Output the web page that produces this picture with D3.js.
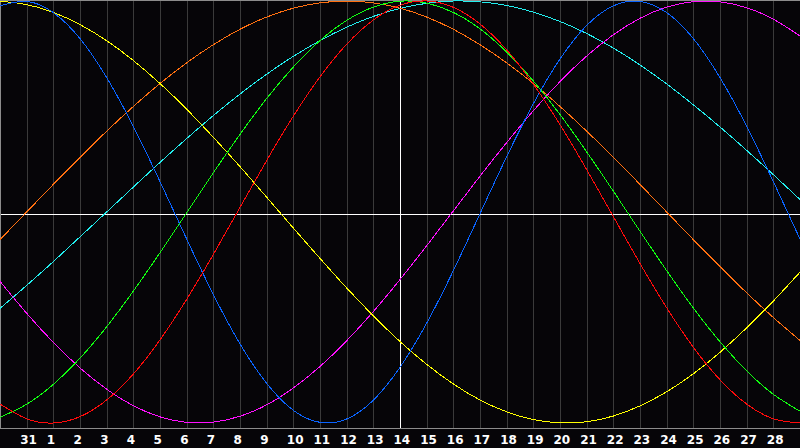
<!DOCTYPE html>
<html>
<head>
<meta charset="utf-8">
<script src="https://cdn.jsdelivr.net/npm/d3@7"></script>
<style>
  html, body { margin: 0; padding: 0; background: #060508; }
  svg { display: block; }
</style>
</head>
<body>
<svg id="chart" width="800" height="448"></svg>
<script>
// Day labels for each column (first and last are at the chart edges, unlabeled)
const days = ["30","31","1","2","3","4","5","6","7","8","9","10","11","12","13","14",
              "15","16","17","18","19","20","21","22","23","24","25","26","27","28","29"];

// Cycle values per day (-1 .. 1)
const blue = [0.977,0.998,0.945,0.822,0.637,0.406,0.144,-0.128,-0.391,-0.625,-0.812,-0.940,-0.997,-0.981,-0.892,-0.736,
              -0.527,-0.278,-0.008,0.262,0.513,0.725,0.884,0.977,0.998,0.945,0.822,0.637,0.406,0.144,-0.128];
const red = [-0.910,-0.980,-1.000,-0.970,-0.891,-0.768,-0.606,-0.414,-0.201,0.022,0.244,0.454,0.641,0.795,0.910,0.980,
             1.000,0.970,0.891,0.768,0.606,0.414,0.201,-0.022,-0.244,-0.454,-0.641,-0.795,-0.910,-0.980,-1.000];
const green = [-0.973,-0.911,-0.817,-0.693,-0.544,-0.375,-0.193,-0.004,0.186,0.368,0.538,0.687,0.812,0.908,0.971,0.999,
               0.990,0.946,0.868,0.758,0.621,0.462,0.285,0.099,-0.091,-0.278,-0.455,-0.615,-0.753,-0.864,-0.944];
const magenta = [-0.329,-0.480,-0.618,-0.739,-0.840,-0.918,-0.971,-0.997,-0.996,-0.968,-0.914,-0.834,-0.732,-0.610,-0.472,-0.320,
                 -0.160,0.005,0.170,0.329,0.480,0.618,0.739,0.840,0.918,0.971,0.997,0.996,0.968,0.914,0.834];
const yellow = [0.999,0.983,0.946,0.888,0.812,0.718,0.609,0.487,0.354,0.215,0.070,-0.076,-0.220,-0.360,-0.492,-0.614,
                -0.722,-0.815,-0.891,-0.947,-0.984,-0.999,-0.994,-0.967,-0.919,-0.852,-0.767,-0.665,-0.549,-0.422,-0.285];
const orange = [-0.131,0.000,0.131,0.259,0.383,0.500,0.609,0.707,0.793,0.866,0.924,0.966,0.991,1.000,0.991,0.966,
                0.924,0.866,0.793,0.707,0.609,0.500,0.383,0.259,0.131,0.000,-0.131,-0.259,-0.383,-0.500,-0.609];
const cyan = [-0.457,-0.348,-0.235,-0.118,0.000,0.118,0.235,0.348,0.457,0.559,0.653,0.738,0.812,0.876,0.927,0.965,
              0.989,1.000,0.996,0.979,0.947,0.903,0.846,0.777,0.697,0.607,0.508,0.403,0.292,0.177,0.059];

const seriesList = [
  { name: "cyan", values: cyan, color: "#22eeee" },
  { name: "orange", values: orange, color: "#ff7010" },
  { name: "magenta", values: magenta, color: "#ff10ff" },
  { name: "yellow", values: yellow, color: "#ffff00" },
  { name: "blue", values: blue, color: "#0a64ff" },
  { name: "green", values: green, color: "#10ff10" },
  { name: "red", values: red, color: "#ff0a0a" }
];

const W = 800, H = 448, plotBottom = 428;
const svg = d3.select("#chart");

svg.append("rect").attr("x", 0).attr("y", 0).attr("width", W).attr("height", H).attr("fill", "#060508");

const x = d3.scaleLinear().domain([0, days.length - 1]).range([0, W]);
const y = d3.scaleLinear().domain([-1, 1]).range([423, 1]);
const yMid = 214;

// vertical grid lines
const idx = d3.range(1, days.length - 1);
const centerIdx = days.indexOf("14");
svg.append("g").selectAll("line").data(idx).join("line")
  .attr("x1", d => Math.round(x(d)) + 0.5).attr("x2", d => Math.round(x(d)) + 0.5)
  .attr("y1", 0).attr("y2", plotBottom)
  .attr("stroke", d => d === centerIdx ? "#ffffff" : "#3a3a3a")
  .attr("stroke-width", 1)
  .attr("shape-rendering", "crispEdges");

// horizontal midline
svg.append("line").attr("x1", 0).attr("x2", W).attr("y1", yMid + 0.5).attr("y2", yMid + 0.5)
  .attr("stroke", "#ffffff").attr("shape-rendering", "crispEdges");

// borders
const border = svg.append("g").attr("stroke", "#8c8c8c").attr("shape-rendering", "crispEdges");
border.append("line").attr("x1", 0).attr("x2", W).attr("y1", 0.5).attr("y2", 0.5);
border.append("line").attr("x1", 0.5).attr("x2", 0.5).attr("y1", 0).attr("y2", plotBottom);
border.append("line").attr("x1", 0).attr("x2", W).attr("y1", plotBottom + 0.5).attr("y2", plotBottom + 0.5);

// curves
const line = d3.line().x((d, i) => x(i)).y(d => y(d)).curve(d3.curveNatural);
svg.append("g").selectAll("path").data(seriesList).join("path")
  .attr("d", s => line(s.values))
  .attr("fill", "none")
  .attr("stroke", s => s.color)
  .attr("stroke-width", 1)
  .attr("shape-rendering", "crispEdges");

// day labels
svg.append("g").selectAll("text").data(idx).join("text")
  .attr("x", d => x(d) - 6.5)
  .attr("y", 444)
  .attr("fill", "#ffffff")
  .attr("font-family", "DejaVu Sans, sans-serif")
  .attr("font-weight", "bold")
  .attr("font-size", "12px")
  .text(d => days[d]);
</script>
</body>
</html>
